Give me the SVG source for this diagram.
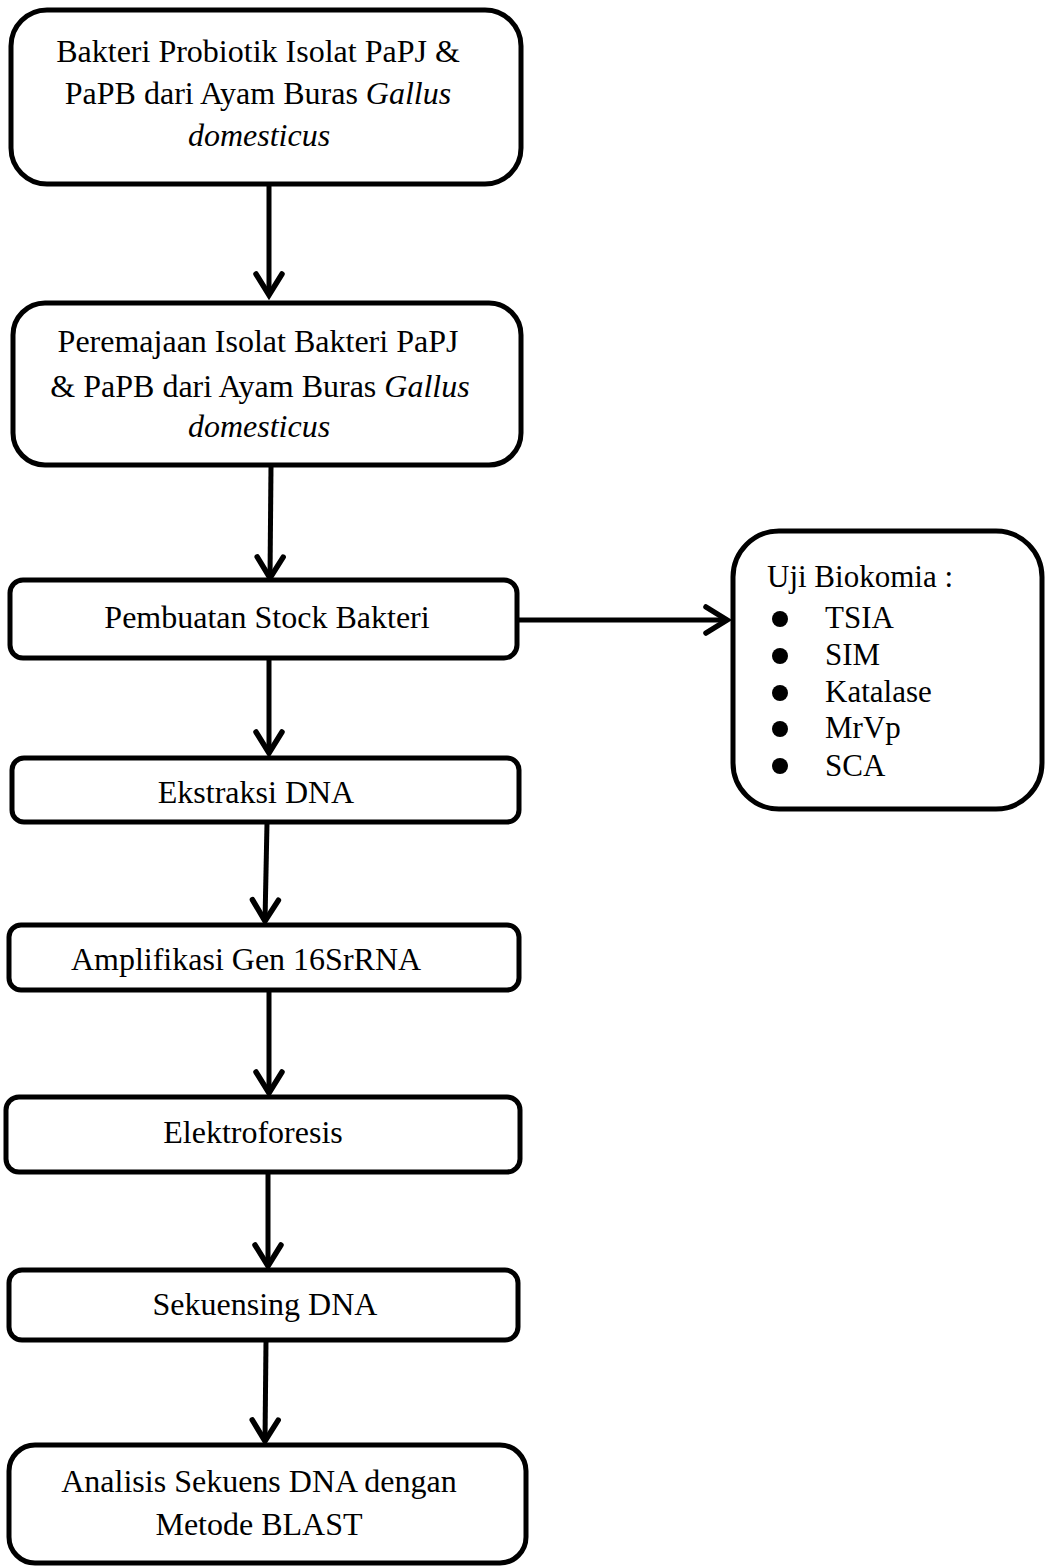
<svg xmlns="http://www.w3.org/2000/svg" width="1046" height="1567" viewBox="0 0 1046 1567">
  <style>
    .box { fill: #ffffff; stroke: #000000; stroke-width: 5; }
    .lbl { font-family: "Liberation Serif", "Times New Roman", serif; font-size: 32px; fill: #000000; text-anchor: middle; }
    .list { font-family: "Liberation Serif", "Times New Roman", serif; font-size: 31px; fill: #000000; }
    .it { font-style: italic; }
    .conn { fill: none; stroke: #000000; stroke-width: 5; marker-end: url(#chev); }
  </style>
  <defs>
    <marker id="chev" markerUnits="userSpaceOnUse" markerWidth="40" markerHeight="40" refX="0" refY="0" orient="auto" overflow="visible">
      <path d="M-21,-13 L0,0 L-21,13" fill="none" stroke="#000000" stroke-width="5.5" stroke-linecap="round" stroke-linejoin="miter"/>
    </marker>
  </defs>

  <!-- connectors -->
  <g id="connectors">
    <line class="conn" x1="269" y1="185" x2="269" y2="295"/>
    <line class="conn" x1="271" y1="466" x2="270" y2="578"/>
    <line class="conn" x1="269" y1="659" x2="269" y2="753"/>
    <line class="conn" x1="267" y1="823" x2="265" y2="921"/>
    <line class="conn" x1="269" y1="991" x2="269" y2="1093"/>
    <line class="conn" x1="268" y1="1173" x2="268" y2="1266"/>
    <line class="conn" x1="266" y1="1341" x2="265" y2="1441"/>
    <line class="conn" x1="518" y1="620" x2="727" y2="620"/>
  </g>

  <!-- flow steps -->
  <g id="n1">
    <rect class="box" x="11" y="10" width="510" height="174" rx="36"/>
    <text class="lbl" x="258" y="62">Bakteri Probiotik Isolat PaPJ &amp;</text>
    <text class="lbl" x="258" y="104">PaPB dari Ayam Buras <tspan class="it">Gallus</tspan></text>
    <text class="lbl it" x="259" y="146">domesticus</text>
  </g>

  <g id="n2">
    <rect class="box" x="13" y="303" width="508" height="162" rx="32"/>
    <text class="lbl" x="258" y="352">Peremajaan Isolat Bakteri PaPJ</text>
    <text class="lbl" x="260" y="397">&amp; PaPB dari Ayam Buras <tspan class="it">Gallus</tspan></text>
    <text class="lbl it" x="259" y="437">domesticus</text>
  </g>

  <g id="n3">
    <rect class="box" x="10" y="580" width="507" height="78" rx="13"/>
    <text class="lbl" x="267" y="628">Pembuatan Stock Bakteri</text>
  </g>

  <g id="n4">
    <rect class="box" x="12" y="758" width="507" height="64" rx="12"/>
    <text class="lbl" x="256" y="803">Ekstraksi DNA</text>
  </g>

  <g id="n5">
    <rect class="box" x="9" y="925" width="510" height="65" rx="12"/>
    <text class="lbl" x="246" y="970">Amplifikasi Gen 16SrRNA</text>
  </g>

  <g id="n6">
    <rect class="box" x="6" y="1097" width="514" height="75" rx="13"/>
    <text class="lbl" x="253" y="1143">Elektroforesis</text>
  </g>

  <g id="n7">
    <rect class="box" x="9" y="1270" width="509" height="70" rx="13"/>
    <text class="lbl" x="265" y="1315">Sekuensing DNA</text>
  </g>

  <g id="n8">
    <rect class="box" x="9" y="1445" width="517" height="118" rx="26"/>
    <text class="lbl" x="259" y="1492">Analisis Sekuens DNA dengan</text>
    <text class="lbl" x="259" y="1535">Metode BLAST</text>
  </g>

  <!-- biochemical test list -->
  <g id="n9">
    <rect class="box" x="733" y="531" width="309" height="278" rx="46"/>
    <text class="list" x="767" y="587">Uji Biokomia :</text>
    <circle cx="780" cy="619" r="8"/>
    <circle cx="780" cy="656" r="8"/>
    <circle cx="780" cy="693" r="8"/>
    <circle cx="780" cy="729" r="8"/>
    <circle cx="780" cy="766" r="8"/>
    <text class="list" x="825" y="628">TSIA</text>
    <text class="list" x="825" y="665">SIM</text>
    <text class="list" x="825" y="702">Katalase</text>
    <text class="list" x="825" y="738">MrVp</text>
    <text class="list" x="825" y="776">SCA</text>
  </g>
</svg>
